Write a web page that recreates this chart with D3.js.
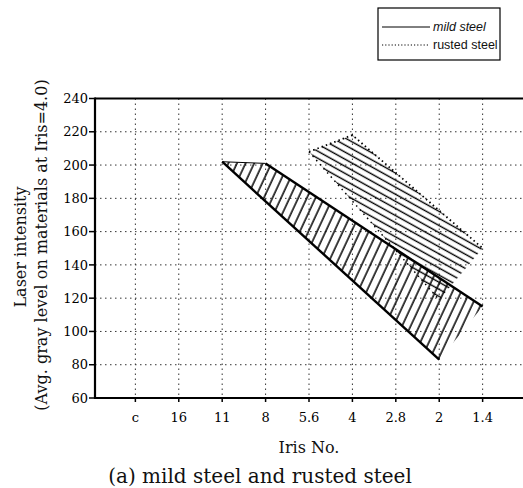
<!DOCTYPE html>
<html>
<head>
<meta charset="utf-8">
<script src="https://cdn.jsdelivr.net/npm/d3@7"></script>
<style>
  html, body { margin: 0; padding: 0; background: #fff; }
  svg { display: block; }
  .tick-label { font-family: "DejaVu Serif", serif; font-size: 13px; fill: #000; }
  .axis-title { font-family: "DejaVu Serif", serif; font-size: 16px; fill: #111; }
  .legend-text { font-family: "Liberation Sans", Arial, sans-serif; font-size: 12.5px; fill: #111; }
</style>
</head>
<body>
<div id="chart"></div>
<script>
// 光圈档位（x 轴类别）
const irisLabels = ["c", "16", "11", "8", "5.6", "4", "2.8", "2", "1.4"];
const yTicks = [60, 80, 100, 120, 140, 160, 180, 200, 220, 240];

// mild steel 区域边界
const mildUpper = [["11", 202], ["8", 201], ["1.4", 115]];
const mildLower = [["11", 202], ["2", 83]];

// rusted steel 区域边界
const rustedUpper = [["5.6", 208], ["4", 218], ["1.4", 150]];
const rustedLower = [["5.6", 208], ["2", 119]];

const width = 523, height = 488;
const margin = { left: 95, right: 0, top: 98.5, bottom: 90 };
const plotBottom = 398;

const svg = d3.select("#chart").append("svg")
    .attr("width", width)
    .attr("height", height);

const x = d3.scalePoint()
    .domain(irisLabels)
    .range([margin.left, width])
    .padding(0.93);

const y = d3.scaleLinear()
    .domain([60, 240])
    .range([plotBottom, margin.top]);

// 填充图案
const defs = svg.append("defs");
const pm = defs.append("pattern")
    .attr("id", "hatchMild")
    .attr("patternUnits", "userSpaceOnUse")
    .attr("width", 7.8).attr("height", 10)
    .attr("patternTransform", "rotate(25)");
pm.append("line")
    .attr("x1", 3).attr("y1", 0).attr("x2", 3).attr("y2", 10)
    .attr("stroke", "#000").attr("stroke-width", 1.5);

const pr = defs.append("pattern")
    .attr("id", "hatchRust")
    .attr("patternUnits", "userSpaceOnUse")
    .attr("width", 10).attr("height", 6.2)
    .attr("patternTransform", "rotate(29)");
pr.append("line")
    .attr("x1", 0).attr("y1", 3).attr("x2", 10).attr("y2", 3)
    .attr("stroke", "#000").attr("stroke-width", 1.4);

// 网格
const grid = svg.append("g")
    .attr("stroke", "#333")
    .attr("stroke-width", 1)
    .attr("stroke-dasharray", "1.5,3.5");

grid.selectAll(".vgrid")
    .data(irisLabels)
    .join("line")
    .attr("x1", d => x(d)).attr("x2", d => x(d))
    .attr("y1", margin.top).attr("y2", plotBottom);

grid.selectAll(".hgrid")
    .data(yTicks.filter(d => d > 60 && d < 240))
    .join("line")
    .attr("x1", margin.left).attr("x2", width)
    .attr("y1", d => y(d)).attr("y2", d => y(d));

const line = d3.line()
    .x(d => x(d[0]))
    .y(d => y(d[1]));

// 区域
const mildPoly = mildUpper.concat(mildLower.slice().reverse());
svg.append("path")
    .attr("d", line(mildPoly) + "Z")
    .attr("fill", "url(#hatchMild)");

const rustPoly = rustedUpper.concat(rustedLower.slice().reverse());
svg.append("path")
    .attr("d", line(rustPoly) + "Z")
    .attr("fill", "url(#hatchRust)");

// 边界线
svg.append("path")
    .attr("d", line(mildUpper.slice(1)))
    .attr("fill", "none").attr("stroke", "#000").attr("stroke-width", 2.4);
svg.append("path")
    .attr("d", line(mildLower))
    .attr("fill", "none").attr("stroke", "#000").attr("stroke-width", 2.4);
svg.append("path")
    .attr("d", line(mildUpper.slice(0, 2)))
    .attr("fill", "none").attr("stroke", "#000").attr("stroke-width", 1);

svg.append("path")
    .attr("d", line(rustedUpper))
    .attr("fill", "none").attr("stroke", "#000").attr("stroke-width", 1.8)
    .attr("stroke-dasharray", "1.5,3");
svg.append("path")
    .attr("d", line(rustedLower))
    .attr("fill", "none").attr("stroke", "#000").attr("stroke-width", 1.5)
    .attr("stroke-dasharray", "1.5,4");

// 坐标框
const frame = svg.append("g").attr("stroke", "#000").attr("fill", "none");
frame.append("line")
    .attr("x1", margin.left).attr("x2", width)
    .attr("y1", margin.top).attr("y2", margin.top)
    .attr("stroke-width", 2);
frame.append("line")
    .attr("x1", margin.left).attr("x2", width)
    .attr("y1", plotBottom).attr("y2", plotBottom)
    .attr("stroke-width", 2.2);
frame.append("line")
    .attr("x1", margin.left).attr("x2", margin.left)
    .attr("y1", margin.top - 1).attr("y2", plotBottom + 1)
    .attr("stroke-width", 2.2);

// y 轴刻度
const yAxis = svg.append("g");
yAxis.selectAll("line")
    .data(yTicks)
    .join("line")
    .attr("x1", margin.left - 6).attr("x2", margin.left)
    .attr("y1", d => y(d)).attr("y2", d => y(d))
    .attr("stroke", "#000").attr("stroke-width", 1.5);
yAxis.selectAll("text")
    .data(yTicks)
    .join("text")
    .attr("class", "tick-label")
    .attr("x", margin.left - 7)
    .attr("y", d => y(d))
    .attr("dy", "0.36em")
    .attr("text-anchor", "end")
    .text(d => d);

// x 轴刻度
const xAxis = svg.append("g");
xAxis.selectAll("line")
    .data(irisLabels)
    .join("line")
    .attr("x1", d => x(d)).attr("x2", d => x(d))
    .attr("y1", plotBottom).attr("y2", plotBottom + 4)
    .attr("stroke", "#000").attr("stroke-width", 1.5);
xAxis.selectAll("text")
    .data(irisLabels)
    .join("text")
    .attr("class", "tick-label")
    .attr("x", d => x(d))
    .attr("y", 422)
    .attr("text-anchor", "middle")
    .text(d => d);

// 轴标题
svg.append("text")
    .attr("class", "axis-title")
    .attr("x", 309).attr("y", 453)
    .attr("text-anchor", "middle")
    .text("Iris No.");

svg.append("text")
    .attr("class", "axis-title")
    .attr("transform", "translate(26,247) rotate(-90)")
    .attr("text-anchor", "middle")
    .text("Laser intensity");
svg.append("text")
    .attr("class", "axis-title")
    .attr("transform", "translate(47,245) rotate(-90)")
    .attr("text-anchor", "middle")
    .text("(Avg. gray level on materials at Iris=4.0)");

svg.append("text")
    .attr("class", "axis-title")
    .attr("x", 260).attr("y", 483)
    .attr("text-anchor", "middle")
    .style("font-size", "20px")
    .text("(a) mild steel and rusted steel");

// 图例
const legend = svg.append("g");
legend.append("rect")
    .attr("x", 378).attr("y", 8)
    .attr("width", 122).attr("height", 52)
    .attr("fill", "#fff").attr("stroke", "#000").attr("stroke-width", 1.2);
const legendItems = [
    { name: "mild steel", dash: null, italic: true },
    { name: "rusted steel", dash: "1.2,2", italic: false }
];
legendItems.forEach((d, i) => {
    const yy = 27 + i * 18;
    legend.append("line")
        .attr("x1", 382).attr("x2", 430)
        .attr("y1", yy).attr("y2", yy)
        .attr("stroke", "#000").attr("stroke-width", 1)
        .attr("stroke-dasharray", d.dash);
    legend.append("text")
        .attr("class", "legend-text")
        .attr("x", 433).attr("y", yy + 4)
        .style("font-style", d.italic ? "italic" : "normal")
        .text(d.name);
});
</script>
</body>
</html>
